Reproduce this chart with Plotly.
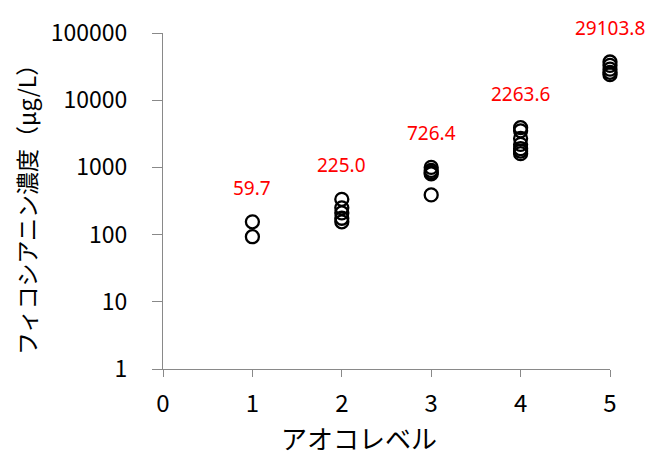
import math
import plotly.graph_objects as go

# Phycocyanin concentration (µg/L) measured at each algal bloom level
levels = [1, 2, 3, 4, 5]
level1 = [155, 93]
level2 = [335, 250, 210, 175, 155]
level3 = [1000, 900, 840, 800, 390]
level4 = [3900, 3500, 2700, 2200, 1900, 1750, 1600]
level5 = [37000, 33000, 29000, 26000, 24000]
group_labels = ["59.7", "225.0", "726.4", "2263.6", "29103.8"]

groups = [level1, level2, level3, level4, level5]
y_tickvals = [1, 10, 100, 1000, 10000, 100000]
y_ticktext = ["1", "10", "100", "1000", "10000", "100000"]
x_tickvals = [0, 1, 2, 3, 4, 5]

xs, ys = [], []
for lv, vals in zip(levels, groups):
    xs += [lv] * len(vals)
    ys += vals

fig = go.Figure()
fig.add_trace(go.Scatter(
    x=xs, y=ys, mode="markers", cliponaxis=False,
    marker=dict(symbol="circle-open", size=13, color="black",
                line=dict(width=2.3, color="black")),
    showlegend=False,
))

# Red value labels placed above the highest point of each level
for lv, vals, txt in zip(levels, groups, group_labels):
    fig.add_annotation(
        x=lv, y=math.log10(max(vals)), text=txt, showarrow=False,
        yshift=34, font=dict(family="Noto Sans", size=19, color="#ff0000"),
    )

axis_line = "#898989"
fig.update_xaxes(
    range=[0, 5], tickvals=x_tickvals, showgrid=False, zeroline=False,
    showline=True, linecolor=axis_line, linewidth=1.3,
    ticks="outside", ticklen=7, tickcolor=axis_line, tickwidth=1.3,
    ticklabelstandoff=6,
    tickfont=dict(family="Noto Sans CJK JP", size=24, color="black"),
)
fig.update_yaxes(
    type="log", range=[0, 5], tickvals=y_tickvals, ticktext=y_ticktext,
    showgrid=False, zeroline=False,
    showline=True, linecolor=axis_line, linewidth=1.3,
    ticks="outside", ticklen=10, tickcolor=axis_line, tickwidth=1.3,
    ticklabelstandoff=20,
    tickfont=dict(family="Noto Sans CJK JP", size=23, color="black"),
)

# Axis titles
fig.add_annotation(
    xref="paper", yref="paper", x=0.438, y=0, text="アオコレベル",
    showarrow=False, font=dict(family="Noto Sans CJK JP", size=26, color="black"),
    xanchor="center", yanchor="middle", yshift=-68,
)
fig.add_annotation(
    xref="paper", yref="paper", x=0, y=0.5,
    text="フィコシアニン濃度（μg/L）", textangle=-90, showarrow=False,
    font=dict(family="Noto Sans CJK JP", size=23, color="black"),
    xanchor="center", yanchor="middle", xshift=-137, yshift=-3,
)

fig.update_layout(
    width=648, height=455,
    margin=dict(l=163, r=38, t=33, b=86),
    paper_bgcolor="white", plot_bgcolor="white",
)

fig.write_html("out.html")
